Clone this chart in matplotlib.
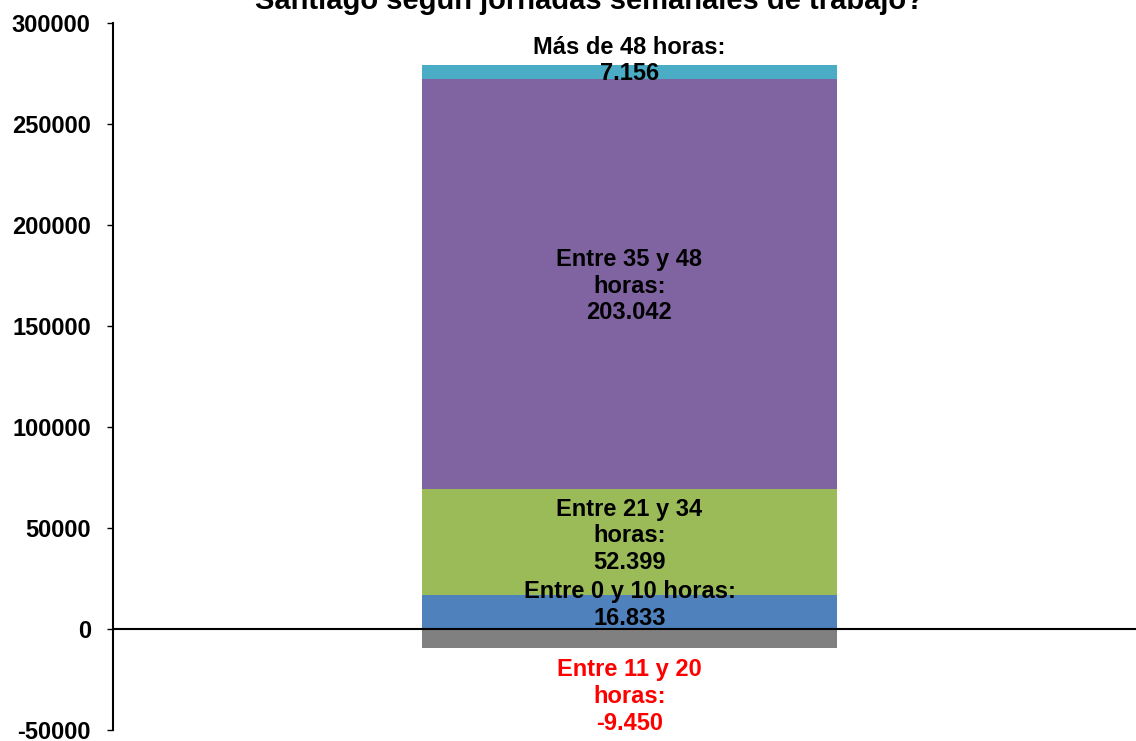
import matplotlib.pyplot as plt

plt.rcParams['font.family'] = ['Liberation Sans', 'DejaVu Sans']
plt.rcParams['axes.unicode_minus'] = False

# data
segments = ["Entre 0 y 10 horas", "Entre 21 y 34 horas", "Entre 35 y 48 horas", "Más de 48 horas"]
values = [16833, 52399, 203042, 7156]
labels = ["Entre 0 y 10 horas:\n16.833", "Entre 21 y 34\nhoras:\n52.399",
          "Entre 35 y 48\nhoras:\n203.042", "Más de 48 horas:\n7.156"]
colors = ["#4F81BD", "#9BBB59", "#8064A2", "#4BACC6"]
label_shift = [5, 4.5, -1.5, 8]  # points up from segment centre

neg_value = -9450
neg_label = "Entre 11 y 20\nhoras:\n-9.450"

fig = plt.figure(figsize=(11.36, 7.41), dpi=100)
ax = fig.add_axes([113 / 1136, 1 - 730 / 741, 1 - 113 / 1136, (730 - 23) / 741])

bottom = 0
for val, lab, col, dy in zip(values, labels, colors, label_shift):
    ax.bar(0, val, bottom=bottom, width=0.503, color=col, zorder=2)
    ax.annotate(lab, (0, bottom + val / 2), xytext=(0, dy), textcoords='offset points',
                ha='center', va='center', fontsize=17, fontweight='bold', linespacing=1.18, zorder=4)
    bottom += val

ax.bar(0, neg_value, width=0.503, color="#808080", zorder=2)
ax.annotate(neg_label, (0, neg_value), xytext=(0, -7), textcoords='offset points',
            ha='center', va='top', fontsize=17, fontweight='bold', color='red', linespacing=1.22)

ax.axhline(0, color='black', lw=1.5, zorder=3)

ax.set_xlim(-0.626, 0.614)
ax.set_ylim(-50000, 300000)
ax.set_yticks(range(-50000, 300001, 50000))
ax.set_xticks([])
for s in ['top', 'right', 'bottom']:
    ax.spines[s].set_visible(False)
ax.spines['left'].set_linewidth(1.5)
ax.tick_params(axis='y', direction='out', length=4, width=1, labelsize=17, pad=12)
for t in ax.get_yticklabels():
    t.set_fontweight('bold')

fig.text(0.519, 1 - 9 / 741, "Santiago según jornadas semanales de trabajo?",
         ha='center', va='baseline', fontsize=21, fontweight='bold')

fig.savefig("out.png", dpi=100)
